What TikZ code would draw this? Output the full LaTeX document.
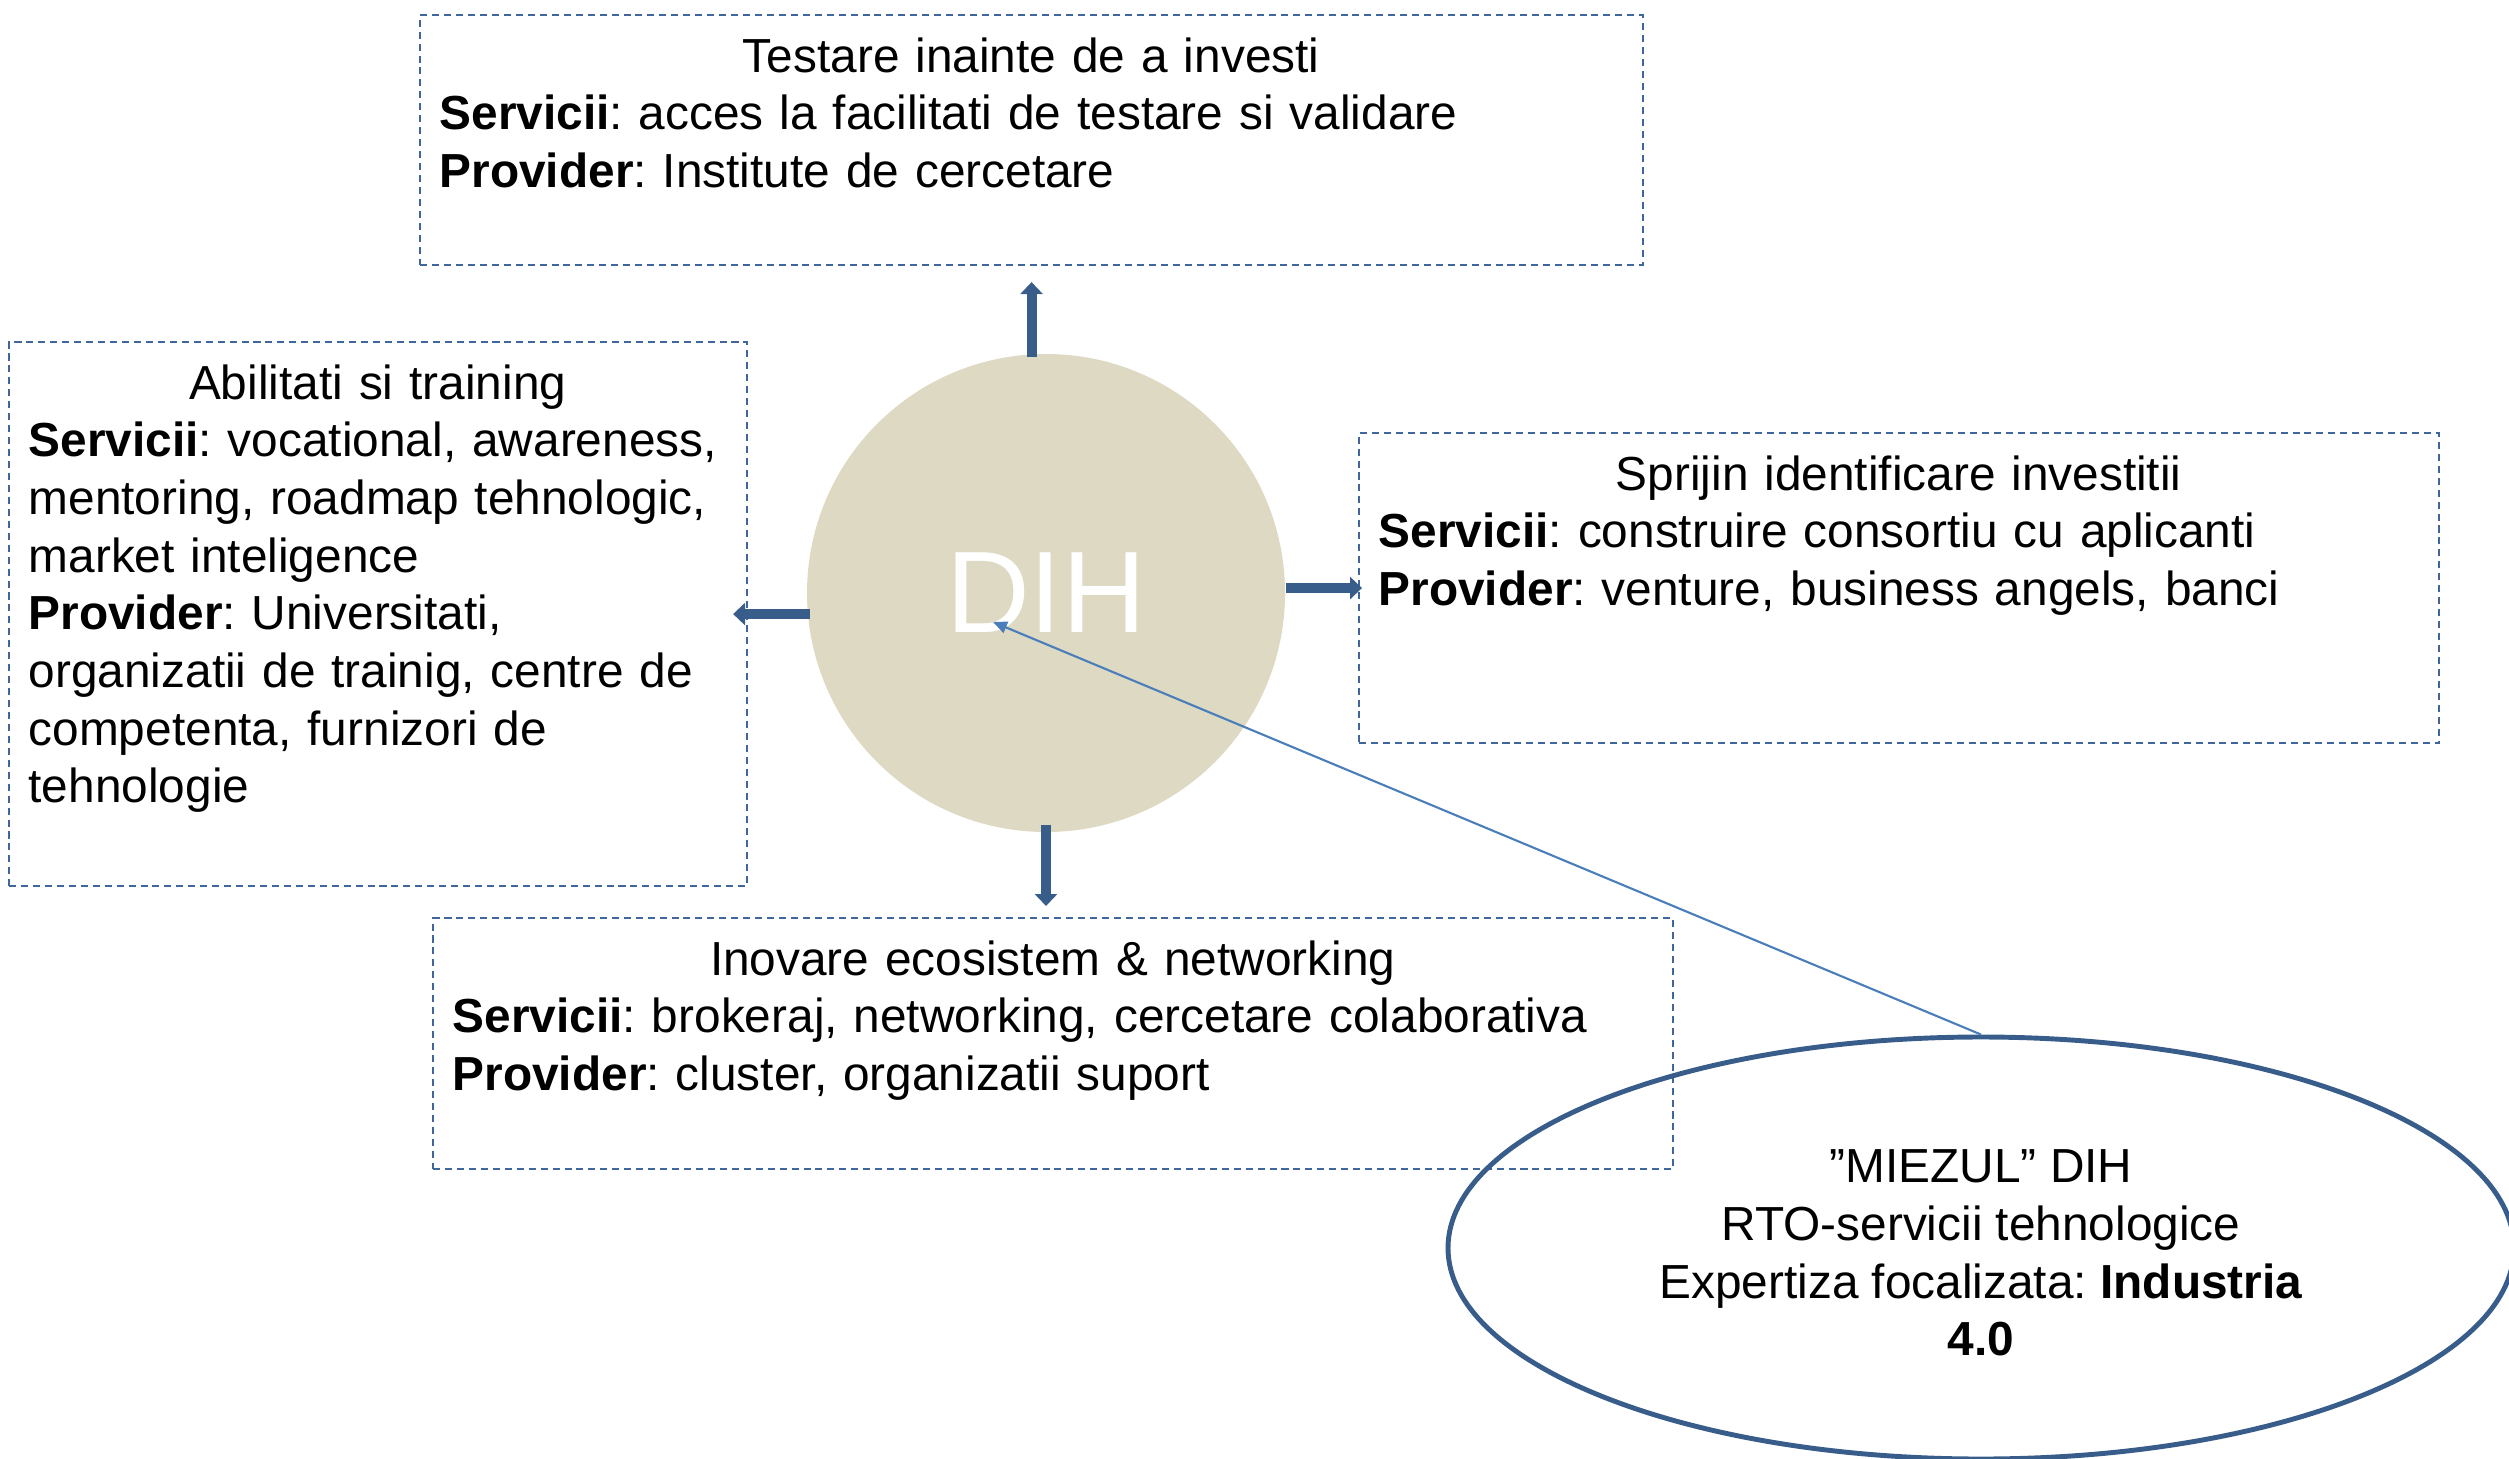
\documentclass[tikz,border=0pt]{standalone}
\usepackage{fontspec}
\setmainfont{Liberation Sans}
\usetikzlibrary{arrows.meta,shapes.geometric}
\definecolor{dashblue}{HTML}{41669B}
\definecolor{arrowblue}{HTML}{385D8A}
\definecolor{lineblue}{HTML}{4A7EBB}
\definecolor{dihtan}{HTML}{DDD9C3}
\frenchspacing

\begin{document}
\begin{tikzpicture}
 	\tikzstyle{every node}+=[inner sep=0pt]
 	\tikzstyle{servbox}=[draw=dashblue, line width=0.6pt, dash pattern=on 2pt off 1.4pt, anchor=north west]
 	\tikzstyle{servtext}=[anchor=north west, align=left, font=\fontsize{13.6pt}{16.4pt}\selectfont]
 	\tikzstyle{flow}=[arrowblue, line width=0.1cm, -{Triangle[width=0.22cm,length=0.12cm]}]
 	\tikzstyle{pointer}=[lineblue, line width=0.6pt, -{Triangle[width=0.12cm,length=0.14cm]}]
 	\useasboundingbox (0,0) rectangle (25.09,-14.58);
 	% hub
 	\node [circle, fill=dihtan, minimum size=4.78cm, text=white, font=\fontsize{33pt}{40pt}\selectfont] (dih) at (10.46,-5.93) {DIH};
 	\coordinate (dihtip) at (9.93,-6.22);
 	% service boxes
 	\node [servbox, minimum width=12.23cm, minimum height=2.50cm] (test) at (4.19,-0.14) {};
 	\node [servtext, text width=11.83cm] (testtxt) at ([xshift=0.2cm,yshift=-0.23cm]test.north west) {%
 	{\centering Testare inainte de a investi\par}
 	\noindent\textbf{Servicii}: acces la facilitati de testare si validare\\
 	\textbf{Provider}: Institute de cercetare};
 	\node [servbox, minimum width=7.38cm, minimum height=5.44cm] (abil) at (0.08,-3.41) {};
 	\node [servtext, text width=6.98cm] (abiltxt) at ([xshift=0.2cm,yshift=-0.23cm]abil.north west) {%
 	{\centering Abilitati si training\par}
 	\noindent\textbf{Servicii}: vocational, awareness,\\
 	mentoring, roadmap tehnologic,\\
 	market inteligence\\
 	\textbf{Provider}: Universitati,\\
 	organizatii de trainig, centre de\\
 	competenta, furnizori de\\
 	tehnologie};
 	\node [servbox, minimum width=10.80cm, minimum height=3.10cm] (sprijin) at (13.58,-4.32) {};
 	\node [servtext, text width=10.40cm] (sprijintxt) at ([xshift=0.2cm,yshift=-0.23cm]sprijin.north west) {%
 	{\centering Sprijin identificare investitii\par}
 	\noindent\textbf{Servicii}: construire consortiu cu aplicanti\\
 	\textbf{Provider}: venture, business angels, banci};
 	\node [servbox, minimum width=12.40cm, minimum height=2.51cm] (inov) at (4.32,-9.17) {};
 	\node [servtext, text width=12.00cm] (inovtxt) at ([xshift=0.2cm,yshift=-0.23cm]inov.north west) {%
 	{\centering Inovare ecosistem \& networking\par}
 	\noindent\textbf{Servicii}: brokeraj, networking, cercetare colaborativa\\
 	\textbf{Provider}: cluster, organizatii suport};
 	% core
 	\node [ellipse, draw=arrowblue, line width=1.4pt, minimum width=10.66cm, minimum height=4.22cm, align=center, font=\fontsize{13.6pt}{16.4pt}\selectfont] (core) at (19.81,-12.48) {};
 	\node [align=center, font=\fontsize{13.6pt}{16.4pt}\selectfont] (coretxt) at ([yshift=-0.05cm]core.center) {”MIEZUL” DIH\\RTO-servicii tehnologice\\Expertiza focalizata: \textbf{Industria}\\\textbf{4.0}};
 	% arrows
 	\draw [flow] ([yshift=-0.04cm]test.south |- dih.north) -- ([yshift=-0.16cm]test.south);
 	\draw [flow] ([yshift=0.08cm]dih.south) -- ([yshift=0.11cm]dih.south |- inov.north);
 	\draw [flow] ([xshift=0.04cm]dih.west |- abil.east) -- ([xshift=-0.15cm]abil.east);
 	\draw [flow] (dih.east |- sprijin.west) -- ([xshift=0.04cm]sprijin.west);
 	\draw [pointer] (core.north) -- (dihtip);
\end{tikzpicture}
\end{document}
